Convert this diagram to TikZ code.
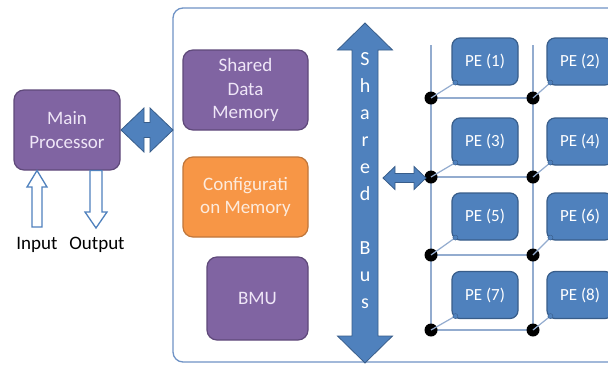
\documentclass[tikz,border=0pt]{standalone}
\usepackage{fontspec}
\setmainfont{Carlito}
\usetikzlibrary{calc}

\definecolor{purplefill}{HTML}{8064A2}
\definecolor{purpleline}{HTML}{5F497A}
\definecolor{purpletext}{HTML}{EFE6F7}
\definecolor{orangefill}{HTML}{F79646}
\definecolor{orangeline}{HTML}{C0763A}
\definecolor{orangetext}{HTML}{FDEBDD}
\definecolor{bluefill}{HTML}{4F81BD}
\definecolor{blueline}{HTML}{385D8A}
\definecolor{gridline}{HTML}{93ACCF}
\definecolor{frameline}{HTML}{6F93C6}

\tikzset{
  unitbox/.style={draw=purpleline, fill=purplefill, line width=1.2pt,
    rounded corners=10pt, text=purpletext, align=center, inner sep=0pt,
    font=\fontsize{19}{23.5}\selectfont},
  cfgbox/.style={unitbox, draw=orangeline, fill=orangefill, text=orangetext},
  pebox/.style={draw=blueline, fill=bluefill, line width=1.2pt,
    rounded corners=8pt, text=white, inner sep=0pt,
    minimum width=66pt, minimum height=47pt,
    font=\fontsize{17}{20}\selectfont},
  busline/.style={draw=bluefill, line width=2pt},
  grid/.style={draw=gridline, line width=1.5pt},
  joint/.style={circle, fill=black, inner sep=0pt, minimum size=13pt},
  knob/.style={circle, fill=bluefill, draw=blueline, line width=0.4pt,
    inner sep=0pt, minimum size=5pt},
  bigarrow/.style={fill=bluefill, draw=blueline, line width=0.8pt, line join=miter},
  iolink/.style={draw=bluefill, fill=white, line width=1.3pt, line join=miter},
  caption/.style={font=\fontsize{19}{22}\selectfont, text=black},
  busletter/.style={font=\fontsize{20}{24}\selectfont, text=white, anchor=base},
}

% horizontal double-headed arrow: x1, x2, y, head half-height, shaft half-height, head length
\newcommand\hdouble[6]{%
  \path[bigarrow] (#1,#3) -- ({#1+#6},{#3-#4}) -- ({#1+#6},{#3-#5})
    -- ({#2-#6},{#3-#5}) -- ({#2-#6},{#3-#4}) -- (#2,#3)
    -- ({#2-#6},{#3+#4}) -- ({#2-#6},{#3+#5}) -- ({#1+#6},{#3+#5})
    -- ({#1+#6},{#3+#4}) -- cycle;}
% vertical double-headed arrow: y1, y2, x, head half-width, shaft half-width, head length
\newcommand\vdouble[6]{%
  \path[bigarrow] (#3,#1) -- ({#3+#4},{#1+#6}) -- ({#3+#5},{#1+#6})
    -- ({#3+#5},{#2-#6}) -- ({#3+#4},{#2-#6}) -- (#3,#2)
    -- ({#3-#4},{#2-#6}) -- ({#3-#5},{#2-#6}) -- ({#3-#5},{#1+#6})
    -- ({#3-#4},{#1+#6}) -- cycle;}

\begin{document}
\begin{tikzpicture}[x=1pt, y=-1pt]
\useasboundingbox (0,0) rectangle (608,365);
\clip (0,0) rectangle (608,365);
\fill[white] (0,0) rectangle (608,365);

% accelerator frame
\draw[draw=frameline, fill=white, line width=1.3pt, rounded corners=10pt]
  (173,8) rectangle (630,362);

% host side
\node[unitbox, minimum width=106pt, minimum height=80pt] (main) at (67,130)
  {Main\\Processor};
\path[iolink] (32,227) -- (32,187) -- (27,187) -- (37,170.5) -- (47,187)
  -- (42,187) -- (42,227) -- cycle;
\path[iolink] (90,170.5) -- (90,212) -- (85,212) -- (96,228) -- (107,212)
  -- (102,212) -- (102,170.5) -- cycle;
\node[caption] (inp) at (37,245) {Input};
\node[caption] (outp) at (97,245) {Output};
\hdouble{121}{173}{130}{22}{7.5}{23}

% memories and BMU
\node[unitbox, minimum width=125pt, minimum height=80pt] (sdm) at (245.5,90)
  {Shared\\Data\\Memory};
\node[cfgbox, minimum width=125pt, minimum height=80pt] (cfg) at (245.5,197)
  {Configurati\\on Memory};
\node[unitbox, minimum width=101pt, minimum height=83pt] (bmu) at (257.5,298.5)
  {BMU};

% shared bus
\coordinate (busL) at (352,0);
\draw[busline] ($(sdm.east)+(0,-2)$) -- ($(sdm.east)+(0,-2)$ -| busL);
\draw[busline] ($(cfg.east)+(0,1)$) -- ($(cfg.east)+(0,1)$ -| busL);
\draw[busline] ($(bmu.east)+(0,-5)$) -- ($(bmu.east)+(0,-5)$ -| busL);
\vdouble{23}{363}{365}{27.5}{13}{27}
\foreach \ch [count=\i from 0] in {S,h,a,r,e,d,{},B,u,s}
  \node[busletter] at (365,{65+27*\i}) {\ch};

% processing-element array
\draw[grid] (431,45) -- (431,330);
\draw[grid] (533,45) -- (533,330);
\foreach \r/\y in {1/98,2/177,3/255,4/330} {
  \draw[grid] (431,\y) -- (533,\y);
  \node[joint] (jl\r) at (431,\y) {};
  \node[joint] (jr\r) at (533,\y) {};
}
\foreach \r/\y in {1/61.5,2/141.5,3/216.5,4/295} {
  \node[pebox] (pl\r) at (485,\y) {PE (\the\numexpr2*\r-1\relax)};
  \node[pebox] (pr\r) at (580,\y) {PE (\the\numexpr2*\r\relax)};
  \draw[grid, line width=1.2pt] (jl\r.center) -- ($(pl\r.south west)+(4,-3)$)
    node[knob] {};
  \draw[grid, line width=1.2pt] (jr\r.center) -- ($(pr\r.south west)+(4,-3)$)
    node[knob] {};
}

% bus to array link
\hdouble{383}{426}{178}{11.5}{4.5}{12}
\end{tikzpicture}
\end{document}
